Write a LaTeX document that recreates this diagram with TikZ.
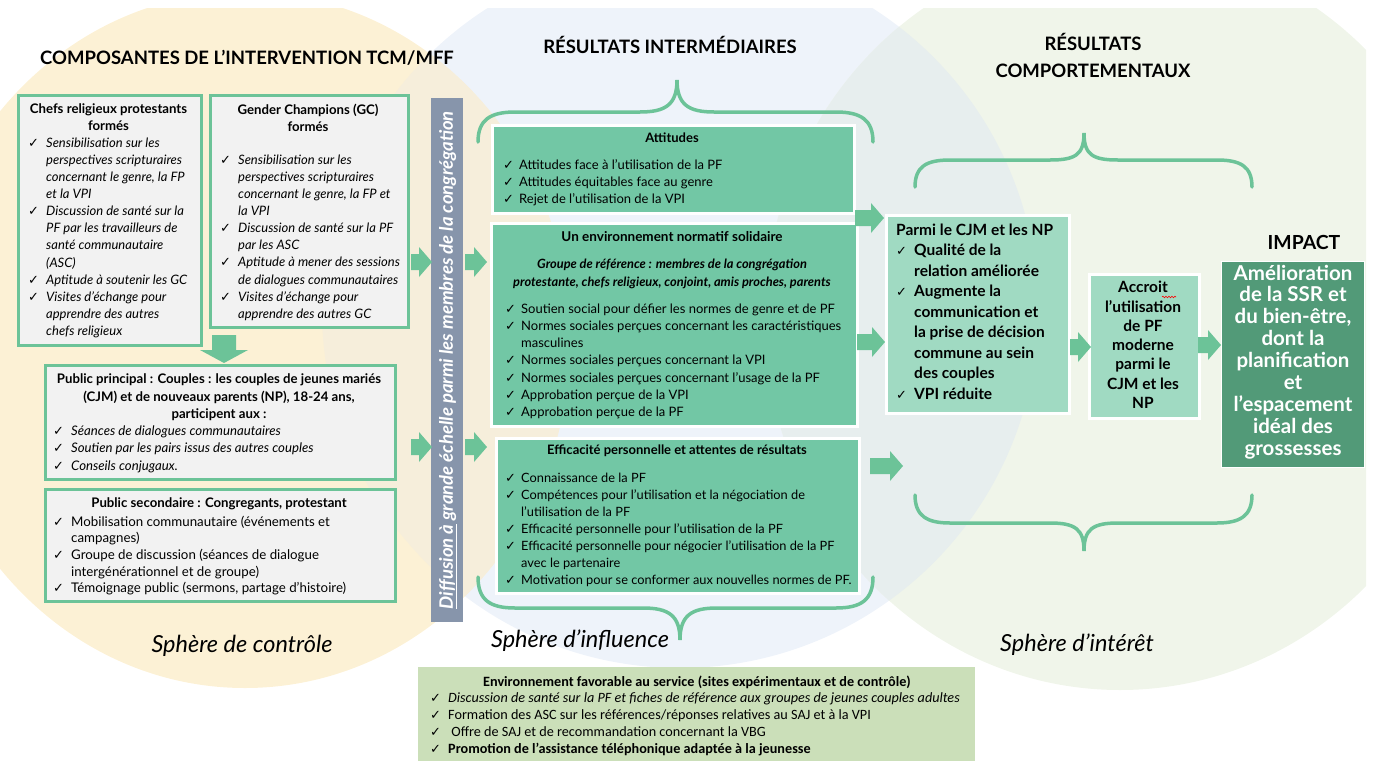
\documentclass[tikz,border=0pt]{standalone}
\usepackage{fontspec}
\setmainfont{Lato}
\newfontfamily\ckfont{DejaVu Sans}
\newfontfamily\calfont{Carlito}
\usetikzlibrary{decorations.pathmorphing}

\definecolor{bgyel}{HTML}{FCF1D5}
\definecolor{bgblue}{HTML}{EEF3FA}
\definecolor{bggreen}{HTML}{F0F5EA}
\definecolor{bgbg}{HTML}{E7EEEE}
\definecolor{bgyb}{HTML}{F6EEDB}
\definecolor{frame}{HTML}{6CC398}
\definecolor{grayfill}{HTML}{F2F2F2}
\definecolor{teal}{HTML}{72C7A5}
\definecolor{mint}{HTML}{A0DAC2}
\definecolor{deep}{HTML}{529A78}
\definecolor{band}{HTML}{8795AB}
\definecolor{envfill}{HTML}{CBDFB9}

% check-mark bullet and hanging indent for list lines
\newcommand\ck{\makebox[18pt][l]{\upshape\bfseries\ckfont\fontsize{13}{11}\selectfont ✓}}
\newcommand\ind{\hspace*{18pt}}
\newcommand\ckm{\makebox[16pt][l]{\upshape\bfseries\ckfont\fontsize{13}{11}\selectfont ✓}}
\newcommand\indm{\hspace*{16pt}}

\tikzset{
  gbox/.style={draw=frame, line width=3pt, fill=grayfill, anchor=north west, inner sep=0pt},
  tbox/.style={draw=white, line width=3pt, fill=teal, anchor=north west, inner sep=0pt},
  mbox/.style={draw=white, line width=3pt, fill=mint, anchor=north west, inner sep=0pt},
  ibox/.style={draw=white, line width=1pt, fill=deep, anchor=north west, inner sep=0pt},
  envbox/.style={fill=envfill, anchor=north west, inner sep=0pt},
  bandbox/.style={fill=band, anchor=north west, inner sep=0pt},
  txt/.style={inner sep=0pt, anchor=north west, align=left},
  ctxt/.style={inner sep=0pt, anchor=north, align=center},
  brace/.style={draw=frame, line width=3.5pt, line cap=round},
  arr/.style={fill=frame},
  head/.style={inner sep=0pt, font=\bfseries\fontsize{18.5}{27}\selectfont, align=center},
  sphere/.style={inner sep=0pt, font=\itshape\fontsize{23.5}{26}\selectfont},
}

% right-pointing block arrow: #1 start x, #2 tip x, #3 centre y
\newcommand\rarr[3]{\fill[arr] (#1,#3-8) -- (#2-13,#3-8) -- (#2-13,#3-15) -- (#2,#3) -- (#2-13,#3+15) -- (#2-13,#3+8) -- (#1,#3+8) -- cycle;}

\begin{document}
\begin{tikzpicture}[x=1pt,y=-1pt]
\useasboundingbox (0,0) rectangle (1377,761);

% ---- background spheres ----
\begin{scope}
\clip (0,8) rectangle (1366,761);
\fill[bgblue] (680,310) circle [radius=358pt];
\fill[bggreen] (1120,318) ellipse [x radius=355pt, y radius=372pt];
\begin{scope}
\clip (680,310) circle [radius=358pt];
\fill[bgbg] (1120,318) ellipse [x radius=355pt, y radius=372pt];
\end{scope}
\fill[bgyel] (245,340) ellipse [x radius=325pt, y radius=348pt];
\begin{scope}
\clip (245,340) ellipse [x radius=325pt, y radius=348pt];
\fill[bgyb] (680,310) circle [radius=358pt];
\end{scope}
\end{scope}

% ---- column headings ----
\node[head] (h1) at (247,58) {COMPOSANTES DE L’INTERVENTION TCM/MFF};
\node[head] (h2) at (670,45) {RÉSULTATS INTERMÉDIAIRES};
\node[head] (h3) at (1093,55) {RÉSULTATS\\COMPORTEMENTAUX};

% ---- intervention components ----
\node[gbox, minimum width=183pt, minimum height=250pt] (chefs) at (17,94) {};
\node[gbox, minimum width=198pt, minimum height=232pt] (gc) at (209,94) {};
\node[gbox, minimum width=350pt, minimum height=114pt] (princ) at (44,364) {};
\node[gbox, minimum width=350pt, minimum height=112pt] (second) at (44,488) {};

\node[ctxt, font=\bfseries\fontsize{13.2}{17}\selectfont] (chefsT) at (108.5,103.5) {Chefs religieux protestants\\formés};
\node[txt, font=\itshape\fontsize{13}{17.1}\selectfont] (chefsL) at (28,137.6) {%
\ck Sensibilisation sur les\\
\ind perspectives scripturaires\\
\ind concernant le genre, la FP\\
\ind et la VPI\\
\ck Discussion de santé sur la\\
\ind PF par les travailleurs de\\
\ind santé communautaire\\
\ind (ASC)\\
\ck Aptitude à soutenir les GC\\
\ck Visites d’échange pour\\
\ind apprendre des autres\\
\ind chefs religieux};

\node[ctxt, font=\bfseries\fontsize{13.2}{17}\selectfont] (gcT) at (308,103.5) {Gender Champions (GC)\\formés};
\node[txt, font=\itshape\fontsize{13}{17.1}\selectfont] (gcL) at (220,154.6) {%
\ck Sensibilisation sur les\\
\ind perspectives scripturaires\\
\ind concernant le genre, la FP et\\
\ind la VPI\\
\ck Discussion de santé sur la PF\\
\ind par les ASC\\
\ck Aptitude à mener des sessions\\
\ind de dialogues communautaires\\
\ck Visites d’échange pour\\
\ind apprendre des autres GC};

\fill[arr] (212,335) -- (236,335) -- (236,350) -- (248,350) -- (224,363) -- (200,350) -- (212,350) -- cycle;

\node[ctxt, font=\bfseries\fontsize{13.2}{17.5}\selectfont] (princT) at (219,373.5) {Public principal : Couples : les couples de jeunes mariés\\(CJM) et de nouveaux parents (NP), 18-24 ans,\\participent aux :};
\node[txt, font=\itshape\fontsize{13.2}{17.5}\selectfont] (princL) at (53,425.5) {%
\ck Séances de dialogues communautaires\\
\ck Soutien par les pairs issus des autres couples\\
\ck Conseils conjugaux.};

\node[ctxt, font=\bfseries\fontsize{13.2}{17}\selectfont] (secondT) at (219,497.5) {Public secondaire : Congregants, protestant};
\node[txt, font=\fontsize{13.3}{16.7}\selectfont] (secondL) at (53,515.5) {%
\ck Mobilisation communautaire (événements et\\
\ind campagnes)\\
\ck Groupe de discussion (séances de dialogue\\
\ind intergénérationnel et de groupe)\\
\ck Témoignage public (sermons, partage d’histoire)};

% ---- diffusion band ----
\node[bandbox, minimum width=32pt, minimum height=524pt] (diff) at (431,98) {};
\node[inner sep=0pt, rotate=90, text=white, font=\bfseries\itshape\fontsize{18.5}{20}\selectfont] (diffT) at ([xshift=1pt]diff.center) {\underline{Diffusion à} grande échelle parmi les membres de la congrégation};

\rarr{411}{432}{262}
\rarr{465}{487}{262}
\rarr{411}{432}{447}
\rarr{465}{487}{447}

% ---- intermediate results ----
\draw[brace] (478,142) .. controls (478,120) and (490,112) .. (515,112) -- (640,112) .. controls (665,112) and (677,105) .. (677,80) .. controls (677,105) and (689,112) .. (714,112) -- (836,112) .. controls (861,112) and (873,120) .. (873,142);
\draw[brace] (478,577) .. controls (478,600) and (490,608) .. (515,608) -- (643,608) .. controls (668,608) and (680,615) .. (680,640) .. controls (680,615) and (692,608) .. (717,608) -- (836,608) .. controls (861,608) and (873,600) .. (873,577);

\node[tbox, minimum width=362pt, minimum height=88pt] (att) at (491,124) {};
\node[tbox, minimum width=366pt, minimum height=203pt] (norm) at (490,222) {};
\node[tbox, minimum width=363pt, minimum height=155pt] (eff) at (495,437) {};

\node[ctxt, font=\bfseries\fontsize{13}{17}\selectfont] (attT) at (672,132.6) {Attitudes};
\node[txt, font=\fontsize{13}{17}\selectfont] (attL) at (503,159.6) {%
\ckm Attitudes face à l’utilisation de la PF\\
\ckm Attitudes équitables face au genre\\
\ckm Rejet de l’utilisation de la VPI};

\node[ctxt, font=\bfseries\fontsize{13.5}{17}\selectfont] (normT) at (672,231.3) {Un environnement normatif solidaire};
\node[ctxt, font=\bfseries\itshape\fontsize{12.8}{18}\selectfont] (normS) at (672,258.7) {Groupe de référence : membres de la congrégation\\protestante, chefs religieux, conjoint, amis proches, parents};
\node[txt, font=\fontsize{13}{17.2}\selectfont] (normL) at (505,303.6) {%
\ckm Soutien social pour défier les normes de genre et de PF\\
\ckm Normes sociales perçues concernant les caractéristiques\\
\indm masculines\\
\ckm Normes sociales perçues concernant la VPI\\
\ckm Normes sociales perçues concernant l’usage de la PF\\
\ckm Approbation perçue de la VPI\\
\ckm Approbation perçue de la PF};

\node[ctxt, font=\bfseries\fontsize{13}{17}\selectfont] (effT) at (677,444.7) {Efficacité personnelle et attentes de résultats};
\node[txt, font=\fontsize{12.8}{17}\selectfont] (effL) at (505,472.7) {%
\ckm Connaissance de la PF\\
\ckm Compétences pour l'utilisation et la négociation de\\
\indm l'utilisation de la PF\\
\ckm Efficacité personnelle pour l'utilisation de la PF\\
\ckm Efficacité personnelle pour négocier l'utilisation de la PF\\
\indm avec le partenaire\\
\ckm Motivation pour se conformer aux nouvelles normes de PF.};

\rarr{855}{884}{218}
\rarr{857}{885}{342}
\rarr{870}{903}{466}

% ---- behavioural results ----
\draw[brace] (915,187) .. controls (915,166) and (927,160) .. (950,160) -- (1050,160) .. controls (1075,160) and (1084,155) .. (1084,133) .. controls (1084,155) and (1093,160) .. (1118,160) -- (1217,160) .. controls (1240,160) and (1252,166) .. (1252,187);
\draw[brace] (915,495) .. controls (915,516) and (927,523) .. (950,523) -- (1050,523) .. controls (1075,523) and (1084,529) .. (1084,551) .. controls (1084,529) and (1093,523) .. (1118,523) -- (1217,523) .. controls (1240,523) and (1252,516) .. (1252,495);

\node[mbox, minimum width=183pt, minimum height=198pt] (parmi) at (885,214) {};
\node[mbox, minimum width=110pt, minimum height=144pt] (accr) at (1088,273) {};
\node[ibox, minimum width=143pt, minimum height=206pt] (impact) at (1221,261) {};

\node[txt, font=\bfseries\fontsize{15.5}{20.5}\selectfont] (parmiL) at (896,223.3) {%
Parmi le CJM et les NP\\
\ck Qualité de la\\
\ind relation améliorée\\
\ck Augmente la\\
\ind communication et\\
\ind la prise de décision\\
\ind commune au sein\\
\ind des couples\\
\ck VPI réduite};

\node[ctxt, font=\bfseries\fontsize{15.5}{19.2}\selectfont] (accrL) at (1143,281.3) {Accroit\\l’utilisation\\de PF\\moderne\\parmi le\\CJM et les\\NP};
\draw[red, line width=0.6pt, decorate, decoration={snake, amplitude=0.8pt, segment length=3pt}] (1162,297) -- (1176,297);

\node[inner sep=0pt, font=\bfseries\fontsize{19.4}{21}\selectfont] (impT) at (1304,242) {IMPACT};
\node[ctxt, text=white, font=\bfseries\fontsize{20.5}{21.9}\selectfont] (impL) at (1293,264.6) {Amélioration\\de la SSR et\\du bien-être,\\dont la\\planification\\et\\l’espacement\\idéal des\\grossesses};

\rarr{1070}{1091}{347}
\rarr{1198}{1221}{345}

% ---- sphere labels ----
\node[sphere] (s1) at (242,646) {Sphère de contrôle};
\node[sphere] (s2) at (580,641) {Sphère d’influence};
\node[sphere] (s3) at (1077,645) {Sphère d’intérêt};

% ---- enabling environment ----
\node[envbox, minimum width=557pt, minimum height=94pt] (env) at (418,667) {};
\node[ctxt, font=\calfont\bfseries\fontsize{14.2}{17}\selectfont] (envT) at (697,676) {Environnement favorable au service (sites expérimentaux et de contrôle)};
\node[txt, font=\calfont\fontsize{14.2}{17.3}\selectfont] (envL) at (430,692) {%
\ck\itshape Discussion de santé sur la PF et fiches de référence aux groupes de jeunes couples adultes\\
\ck Formation des ASC sur les références/réponses relatives au SAJ et à la VPI\\
\ck\ Offre de SAJ et de recommandation concernant la VBG\\
\ck\bfseries Promotion de l’assistance téléphonique adaptée à la jeunesse};

\end{tikzpicture}
\end{document}
